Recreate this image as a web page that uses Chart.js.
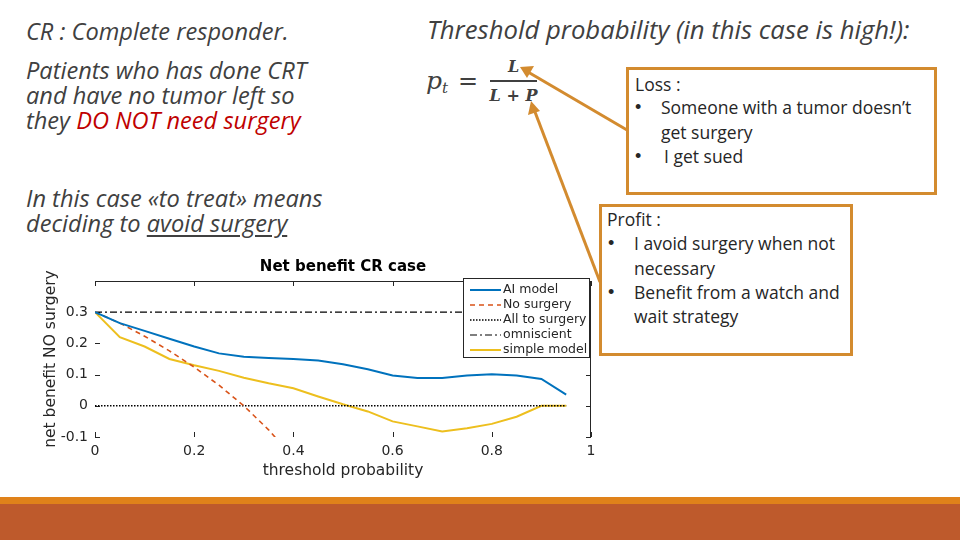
<!DOCTYPE html>
<html><head><meta charset="utf-8">
<script src="https://cdn.jsdelivr.net/npm/chart.js@4.4.1/dist/chart.umd.min.js"></script>
<style>
html,body{margin:0;padding:0;}
body{width:960px;height:540px;overflow:hidden;background:#fff;position:relative;font-family:'Open Sans',Lato,sans-serif;}
.t{position:absolute;white-space:nowrap;color:#404040;font-style:italic;font-size:23.6px;line-height:25px;}
.red{color:#C00000;}
.u{text-decoration:underline;text-underline-offset:3px;}
.f{position:absolute;white-space:nowrap;color:#404040;font-family:'DejaVu Serif',serif;font-style:italic;}
.box{position:absolute;box-sizing:border-box;border:3px solid #D38B2F;}
.bl{position:absolute;white-space:nowrap;color:#262626;font-size:17.5px;line-height:24px;}
.bu{position:absolute;white-space:nowrap;color:#262626;font-family:'Liberation Sans',Arial,sans-serif;font-size:18px;line-height:24px;}
#cv{position:absolute;left:0;top:250px;}
#arrows{position:absolute;left:0;top:0;}
.band1{position:absolute;left:0;top:497px;width:960px;height:7px;background:#E0821A;}
.band2{position:absolute;left:0;top:504px;width:960px;height:36px;background:#BE5A2C;}
</style></head>
<body>
<div class="t" style="left:26px;top:19px;">CR : Complete responder.</div>
<div class="t" style="left:26px;top:58px;">Patients who has done CRT<br>and have no tumor left so<br>they <span class="red">DO NOT need surgery</span></div>
<div class="t" style="left:26px;top:186px;">In this case «to treat» means<br>deciding to <span class="u">avoid surgery</span></div>
<div class="t" style="left:427px;top:15px;font-size:25.7px;line-height:30px;">Threshold probability (in this case is high!):</div>

<div class="f" style="left:426px;top:66px;font-size:25px;line-height:30px;">p<span style="font-size:15px;position:relative;top:4px;">t</span></div>
<div class="f" style="left:458px;top:66px;font-size:24px;line-height:30px;font-style:normal;">=</div>
<div class="f" style="left:490px;top:56px;width:47px;text-align:center;font-size:16px;line-height:22px;font-weight:bold;">L</div>
<div style="position:absolute;left:490px;top:80px;width:47px;height:1.5px;background:#404040;"></div>
<div class="f" style="left:488px;top:85px;width:51px;text-align:center;font-size:16px;line-height:22px;font-weight:bold;">L + P</div>

<div class="box" style="left:626px;top:67px;width:311px;height:128px;"></div>
<div class="bl" style="left:635px;top:72px;">Loss :</div>
<div class="bu" style="left:635px;top:95px;">•</div>
<div class="bl" style="left:661px;top:95px;">Someone with a tumor doesn’t</div>
<div class="bl" style="left:661px;top:120px;">get surgery</div>
<div class="bu" style="left:635px;top:144px;">•</div>
<div class="bl" style="left:664px;top:144px;">I get sued</div>

<div class="box" style="left:599px;top:204px;width:254px;height:152px;"></div>
<div class="bl" style="left:607px;top:207px;">Profit :</div>
<div class="bu" style="left:608px;top:231px;">•</div>
<div class="bl" style="left:634px;top:231px;">I avoid surgery when not</div>
<div class="bl" style="left:634px;top:256px;">necessary</div>
<div class="bu" style="left:608px;top:280px;">•</div>
<div class="bl" style="left:634px;top:280px;">Benefit from a watch and</div>
<div class="bl" style="left:634px;top:304px;">wait strategy</div>

<canvas id="cv" width="620" height="240"></canvas>

<svg id="arrows" width="960" height="540">
  <line x1="627" y1="130" x2="528" y2="72" stroke="#D38B2F" stroke-width="3"/>
  <polygon points="520,67 534,66 527,78" fill="#D38B2F"/>
  <line x1="600" y1="282" x2="535" y2="112" stroke="#D38B2F" stroke-width="3"/>
  <polygon points="531,101 528,115 540,111" fill="#D38B2F"/>
</svg>

<div class="band1"></div>
<div class="band2"></div>

<script>
const thresholds = [0,0.05,0.1,0.15,0.2,0.25,0.3,0.35,0.4,0.45,0.5,0.55,0.6,0.65,0.7,0.75,0.8,0.85,0.9,0.95];
const aiModel = [0.3,0.265,0.24,0.215,0.19,0.168,0.157,0.153,0.15,0.145,0.133,0.117,0.097,0.089,0.089,0.097,0.101,0.097,0.086,0.036];
const noSurgery = [0.3,0.265,0.223,0.176,0.124,0.066,0.0,-0.077,-0.167];
const allToSurgery = [0,0,0,0,0,0,0,0,0,0,0,0,0,0,0,0,0,0,0,0];
const omniscient = [0.3,0.3,0.3,0.3,0.3,0.3,0.3,0.3,0.3,0.3,0.3,0.3,0.3,0.3,0.3,0.3,0.3,0.3,0.3,0.3];
const simpleModel = [0.3,0.22,0.19,0.15,0.13,0.112,0.09,0.072,0.056,0.03,0.005,-0.018,-0.05,-0.066,-0.082,-0.072,-0.058,-0.035,0,0];
const seriesNames = ['AI model','No surgery','All to surgery','omniscient','simple model'];
const xTicks = [0,0.2,0.4,0.6,0.8,1];
const yTicks = [-0.1,0,0.1,0.2,0.3];
const yAxisTicks = [-0.1,0,0.1,0.2,0.3,0.4];

function pts(vals){ return vals.map((v,i)=>({x:thresholds[i], y:v})); }

const txt = '#262626';
const decor = {
  id:'decor',
  beforeDatasetsDraw(chart){
    const {ctx, chartArea:a, scales:{x,y}} = chart;
    ctx.save();
    ctx.strokeStyle = '#262626'; ctx.lineWidth = 1;
    ctx.beginPath();
    ctx.moveTo(a.left, a.top+0.5); ctx.lineTo(a.right, a.top+0.5);
    ctx.moveTo(a.right-0.5, a.top); ctx.lineTo(a.right-0.5, a.bottom);
    xTicks.forEach(v=>{ const px=Math.round(x.getPixelForValue(v))+0.5;
      ctx.moveTo(px,a.bottom); ctx.lineTo(px,a.bottom-5);
      ctx.moveTo(px,a.top); ctx.lineTo(px,a.top+5); });
    yAxisTicks.forEach(v=>{ const py=Math.round(y.getPixelForValue(v))+0.5;
      ctx.moveTo(a.left,py); ctx.lineTo(a.left+5,py);
      ctx.moveTo(a.right,py); ctx.lineTo(a.right-5,py); });
    ctx.stroke();
    ctx.fillStyle = '#000'; ctx.font = 'bold 15px "DejaVu Sans"';
    ctx.textAlign='center'; ctx.textBaseline='middle';
    ctx.fillText('Net benefit CR case', (a.left+a.right)/2, 17);
    ctx.restore();
  },
  afterDatasetsDraw(chart){
    const {ctx} = chart;
    ctx.save();
    const bx=463.5, by=28.5, bw=126, bh=79;
    ctx.fillStyle='#fff'; ctx.fillRect(bx,by,bw,bh);
    ctx.strokeStyle='#262626'; ctx.lineWidth=1; ctx.setLineDash([]);
    ctx.strokeRect(bx,by,bw,bh);
    ctx.font='12.5px "DejaVu Sans"'; ctx.textBaseline='middle'; ctx.textAlign='left';
    chart.data.datasets.forEach((ds,i)=>{
      const yy = 40 + i*15;
      ctx.strokeStyle=ds.borderColor; ctx.lineWidth=ds.borderWidth;
      ctx.setLineDash(ds.borderDash||[]);
      ctx.beginPath(); ctx.moveTo(470,yy); ctx.lineTo(501,yy); ctx.stroke();
      ctx.fillStyle=txt; ctx.fillText(ds.label, 503, yy);
    });
    ctx.restore();
  }
};

new Chart(document.getElementById('cv'), {
  type:'line',
  data:{ datasets:[
    {label:seriesNames[0], data:pts(aiModel), borderColor:'#0072BD', borderWidth:2},
    {label:seriesNames[1], data:pts(noSurgery), borderColor:'#D95319', borderWidth:1.6, borderDash:[5,4]},
    {label:seriesNames[2], data:pts(allToSurgery), borderColor:'#000000', borderWidth:1.5, borderDash:[1.5,1.5]},
    {label:seriesNames[3], data:pts(omniscient), borderColor:'#000000', borderWidth:1.2, borderDash:[7,3,2,3]},
    {label:seriesNames[4], data:pts(simpleModel), borderColor:'#EDBF1E', borderWidth:2}
  ].map(d=>Object.assign(d,{pointRadius:0, fill:false, tension:0}))},
  options:{
    responsive:false, animation:false, devicePixelRatio:1,
    layout:{padding:{left:0,right:29,top:31,bottom:0}},
    plugins:{legend:{display:false}, tooltip:{enabled:false}},
    scales:{
      x:{type:'linear', min:0, max:1,
        afterBuildTicks:s=>{ s.ticks = xTicks.map(v=>({value:v})); },
        afterFit:s=>{ s.height = 53; },
        grid:{display:false, drawTicks:false}, border:{display:false},
        ticks:{padding:6, color:txt, font:{family:'DejaVu Sans', size:14}, maxRotation:0,
          callback:v=>String(Math.round(v*10)/10)},
        title:{display:true, text:'threshold probability', color:txt,
          font:{family:'DejaVu Sans', size:15.5}, padding:{top:0,bottom:10}}
      },
      y:{type:'linear', min:-0.1, max:0.4,
        afterBuildTicks:s=>{ s.ticks = yTicks.map(v=>({value:v})); },
        afterFit:s=>{ s.width = 95; },
        grid:{display:false, drawTicks:false}, border:{display:false},
        ticks:{padding:7, color:txt, font:{family:'DejaVu Sans', size:14},
          callback:v=>String(Math.round(v*10)/10)},
        title:{display:true, text:'net benefit NO surgery', color:txt,
          font:{family:'DejaVu Sans', size:15.5}, padding:{top:42,bottom:0}}
      }
    }
  },
  plugins:[decor]
});
</script>
</body></html>
